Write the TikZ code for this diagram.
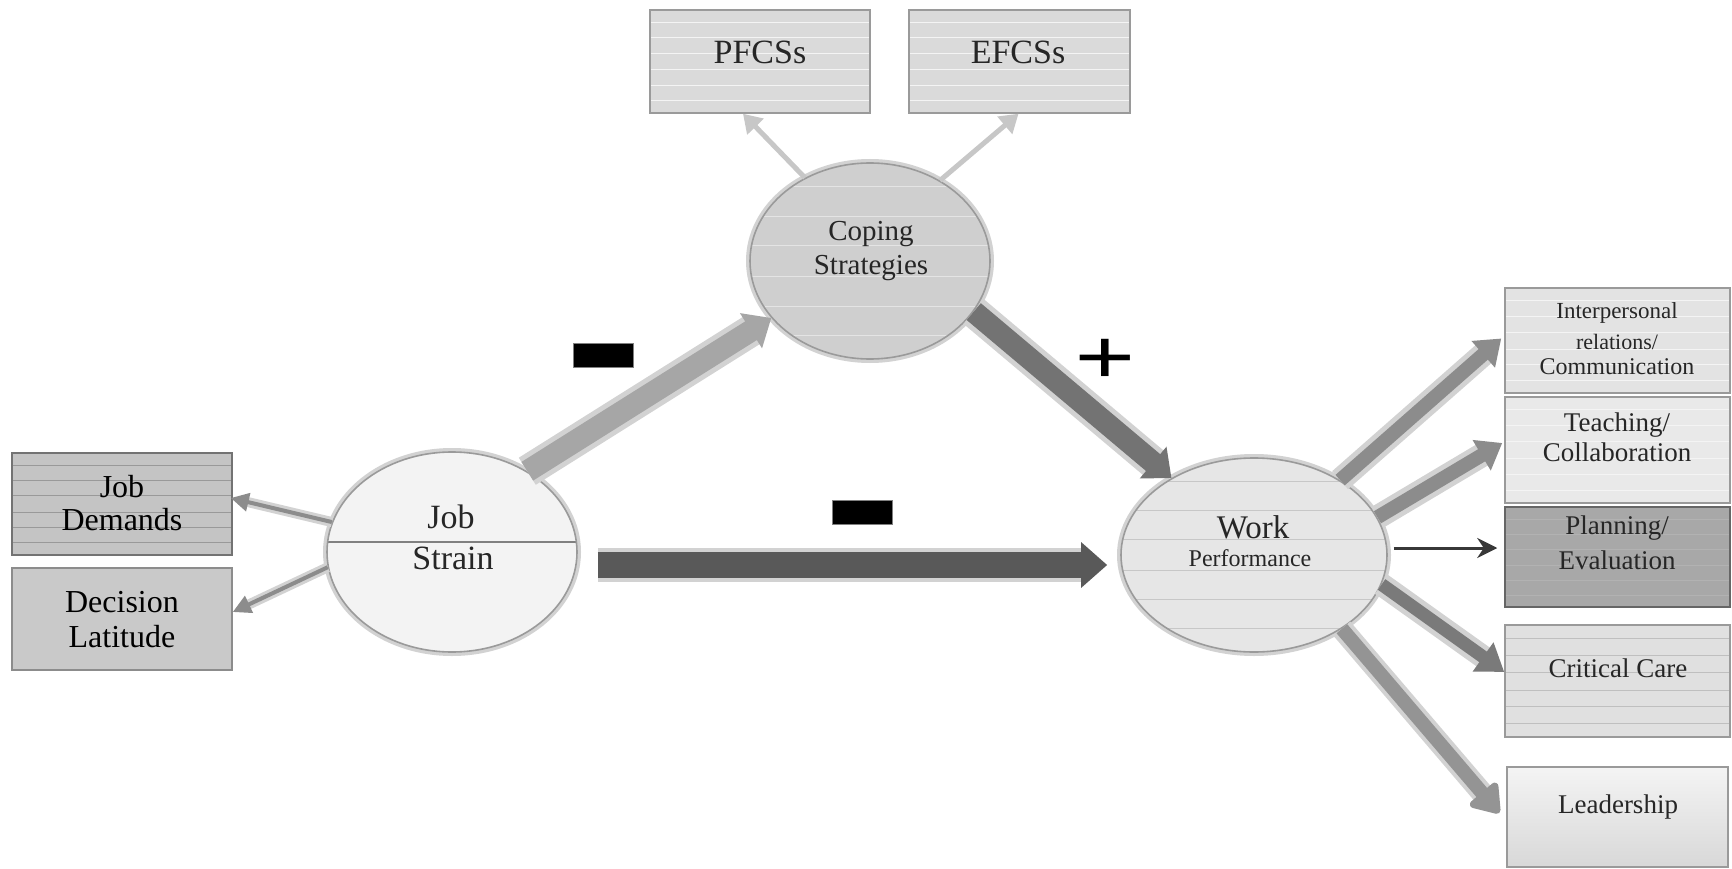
\documentclass[tikz,border=0pt]{standalone}
\usepackage{fontspec}
\usepackage{graphicx}
\setmainfont{Liberation Serif}
\usetikzlibrary{arrows.meta,shapes.geometric,calc}
\definecolor{cBoxTop}{HTML}{DADADA}
\definecolor{cCope}{HTML}{CFCFCF}
\definecolor{cJS}{HTML}{F3F3F3}
\definecolor{cWP}{HTML}{E6E6E6}
\definecolor{cJD}{HTML}{C4C4C4}
\definecolor{cDL}{HTML}{C9C9C9}
\definecolor{cIP}{HTML}{E3E3E3}
\definecolor{cTC}{HTML}{E9E9E9}
\definecolor{cPL}{HTML}{A8A8A8}
\definecolor{cCC}{HTML}{E0E0E0}
\definecolor{cLDt}{HTML}{F4F4F4}
\definecolor{cLDb}{HTML}{D8D8D8}
\definecolor{cEdge}{HTML}{9A9A9A}
\definecolor{cHalo}{HTML}{D2D2D2}
\begin{document}
\begin{tikzpicture}[x=1pt,y=-1pt,
  boxbase/.style={rectangle, draw=cEdge, line width=1.5pt, inner sep=0pt},
  stripes/.style={path picture={
      \foreach \f in {0.12,0.27,0.42,0.58,0.73,0.88}
        \draw[#1, line width=0.8pt]
          ($(path picture bounding box.north west)!\f!(path picture bounding box.south west)$) --
          ($(path picture bounding box.north east)!\f!(path picture bounding box.south east)$);}},
  ellnode/.style={ellipse, draw=cEdge, line width=1.6pt, inner sep=0pt,
      preaction={draw=cHalo, line width=8pt}},
  lbl/.style={inner sep=0pt, text=black!85, font=\fontsize{#1}{#1}\selectfont},
  minusbar/.style={rectangle, fill=black, draw=gray, line width=1pt,
      minimum width=60pt, minimum height=24pt, inner sep=0pt},
  halo/.style={draw=cHalo, line width=#1, line cap=butt},
  fatarrow/.style={line width=#1},
]
\useasboundingbox (0,0) rectangle (1732,869);
\fill[white] (0,0) rectangle (1732,869);

% ---------- top boxes ----------
\node[boxbase, fill=cBoxTop, stripes=white!70!cBoxTop, minimum width=220pt, minimum height=103pt] (pf) at (760,61.5) {};
\node[boxbase, fill=cBoxTop, stripes=white!70!cBoxTop, minimum width=221pt, minimum height=103pt] (ef) at (1019.5,61.5) {};
\node[lbl=34] (pft) at (760,52) {PFCSs};
\node[lbl=34] (eft) at (1018,52) {EFCSs};

% ---------- left boxes ----------
\node[boxbase, draw=black!55, fill=cJD, stripes=black!40, minimum width=220pt, minimum height=102pt] (jd) at (122,504) {};
\node[boxbase, draw=black!45, fill=cDL, minimum width=220pt, minimum height=102pt] (dl) at (122,619) {};
\node[lbl=32, text=black] (jdt1) at (122,487) {Job};
\node[lbl=32, text=black] (jdt2) at (122,520) {Demands};
\node[lbl=32, text=black] (dlt1) at (122,602) {Decision};
\node[lbl=32, text=black] (dlt2) at (122,637) {Latitude};

% ---------- right boxes ----------
\node[boxbase, fill=cIP, stripes=white!60!cIP, minimum width=225pt, minimum height=105pt] (ip) at (1617.5,340.5) {};
\node[boxbase, fill=cTC, stripes=white!50!cTC, minimum width=225pt, minimum height=106pt] (tc) at (1617.5,450) {};
\node[boxbase, draw=black!60, fill=cPL, stripes=black!30, minimum width=225pt, minimum height=100pt] (pl) at (1617.5,557) {};
\node[boxbase, fill=cCC, stripes=black!25, minimum width=225pt, minimum height=112pt] (cc) at (1617.5,681) {};
\node[boxbase, draw=cEdge, top color=cLDt, bottom color=cLDb, minimum width=221pt, minimum height=100pt] (ld) at (1617.5,817) {};
\node[lbl=23] (ipt1) at (1617,313) {Interpersonal};
\node[lbl=22] (ipt2) at (1617,342) {relations/};
\node[lbl=24] (ipt3) at (1617,367) {Communication};
\node[lbl=27] (tct1) at (1617,425) {Teaching/};
\node[lbl=27] (tct2) at (1617,452) {Collaboration};
\node[lbl=27] (plt1) at (1617,528) {Planning/};
\node[lbl=27] (plt2) at (1617,560) {Evaluation};
\node[lbl=27] (cct) at (1618,668) {Critical Care};
\node[lbl=27] (ldt) at (1618,807) {Leadership};

% ---------- ellipses ----------
\node[ellnode, fill=cCope, stripes=white!45!cCope, minimum width=240pt, minimum height=196pt] (cs) at (870,261) {};
\node[ellnode, fill=cJS, minimum width=250pt, minimum height=200pt,
      path picture={\draw[gray, line width=1.2pt]
        ([shift={(0,-10)}]path picture bounding box.west) -- ([shift={(0,-10)}]path picture bounding box.east);}] (js) at (452,552) {};
\node[ellnode, fill=cWP, stripes=black!22, minimum width=266pt, minimum height=194pt] (wp) at (1254,555) {};
\node[lbl=29] (cst1) at (871,234) {Coping};
\node[lbl=29] (cst2) at (871,268) {Strategies};
\node[lbl=34] (jst1) at (451,517) {Job};
\node[lbl=34] (jst2) at (453,558) {Strain};
\node[lbl=33] (wpt1) at (1253,527) {Work};
\node[lbl=24] (wpt2) at (1250,558) {Performance};

% ---------- sign labels ----------
\node[minusbar] (m1) at (603,355) {};
\node[minusbar] (m2) at (862,512) {};
\node[inner sep=0pt, text=black, font=\fontsize{80}{80}\selectfont\bfseries] (p1) at (1105,362) {\scalebox{1.35}[1]{+}};

% ---------- arrows ----------
% Job Strain -> Coping
\draw[halo=32pt, shorten >=20pt] (js.47) -- (cs.210.5);
\draw[fatarrow=22pt, draw=black!35, -{Triangle[width=40pt,length=24pt]}] (js.47) -- (cs.210.5);
% Coping -> Work Performance
\draw[halo=32pt, shorten >=20pt] (cs.-26) -- (wp.137);
\draw[fatarrow=22pt, draw=black!55, -{Triangle[width=40pt,length=24pt]}] (cs.-26) -- (wp.137);
% Job Strain -> Work Performance
\draw[halo=34pt, shorten >=22pt] ([shift={(20,13)}]js.east) -- ([shift={(-13,10)}]wp.west);
\draw[fatarrow=26pt, draw=black!65, -{Triangle[width=44pt,length=26pt]}] ([shift={(20,13)}]js.east) -- ([shift={(-13,10)}]wp.west);
% Work Performance -> outcomes
\draw[halo=24pt, shorten >=20pt] (wp.41) -- ([shift={(-3,-2)}]ip.west);
\draw[fatarrow=14pt, draw=black!45, -{Triangle[width=34pt,length=24pt]}] (wp.41) -- ([shift={(-3,-2)}]ip.west);
\draw[halo=24pt, shorten >=20pt] (wp.17) -- ([shift={(-2,-7)}]tc.west);
\draw[fatarrow=14pt, draw=black!45, -{Triangle[width=34pt,length=24pt]}] (wp.17) -- ([shift={(-2,-7)}]tc.west);
\draw[line width=3pt, draw=black!78, -{Stealth[width=20pt,length=20pt]}] ([shift={(6,-7)}]wp.east) -- ([shift={(-7,-9)}]pl.west);
\draw[halo=23pt, shorten >=20pt] (wp.-13.5) -- ([shift={(0,-9)}]cc.west);
\draw[fatarrow=13pt, draw=black!52, -{Triangle[width=34pt,length=26pt]}] (wp.-13.5) -- ([shift={(0,-9)}]cc.west);
\draw[halo=22pt, shorten >=24pt] (wp.-40) -- ([shift={(-7,-4)}]ld.west);
\draw[fatarrow=14pt, draw=black!42, -{Triangle[width=40pt,length=30pt,round]}] (wp.-40) -- ([shift={(-7,-4)}]ld.west);
% Job Strain -> components
\draw[halo=10pt, shorten >=12pt] (js.166) -- ([shift={(-2,-6)}]jd.east);
\draw[line width=4pt, draw=black!45, -{Triangle[width=18pt,length=18pt]}] (js.166) -- ([shift={(-2,-6)}]jd.east);
\draw[halo=10pt, shorten >=12pt] (js.187.5) -- ([shift={(0,-7)}]dl.east);
\draw[line width=4pt, draw=black!45, -{Triangle[width=18pt,length=18pt]}] (js.187.5) -- ([shift={(0,-7)}]dl.east);
% Coping -> strategies
\draw[line width=5pt, draw=black!22, -{Triangle[width=22pt,length=18pt]}] (cs.128.6) -- ([shift={(-17,0)}]pf.south);
\draw[line width=5pt, draw=black!22, -{Triangle[width=22pt,length=18pt]}] (cs.49.4) -- ([shift={(-1,0)}]ef.south);
\end{tikzpicture}
\end{document}
